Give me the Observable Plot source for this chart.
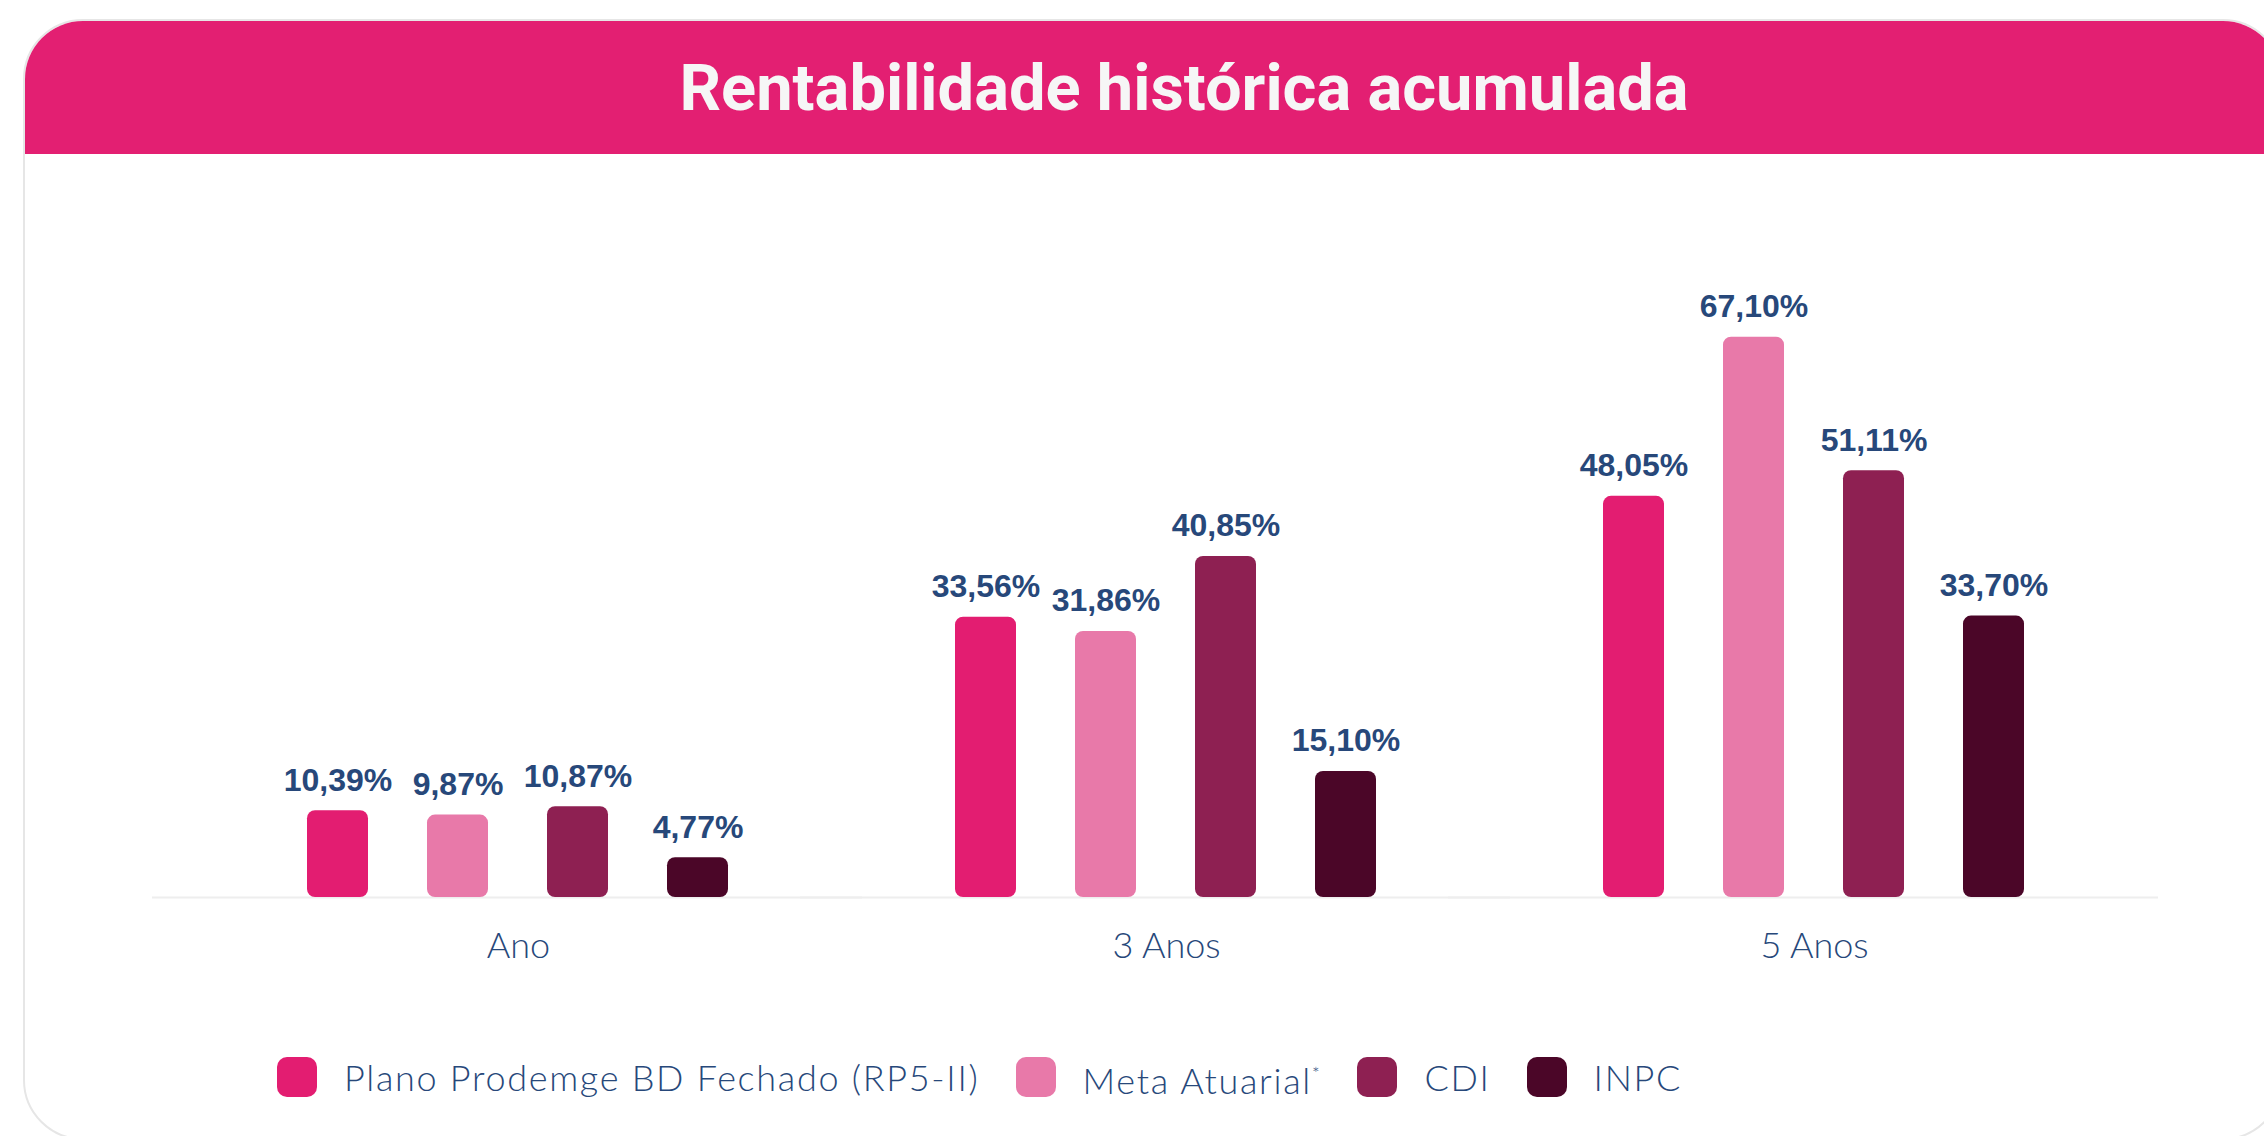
<!DOCTYPE html>
<html>
<head>
<meta charset="utf-8">
<script src="https://cdn.jsdelivr.net/npm/d3@7"></script>
<script src="https://cdn.jsdelivr.net/npm/@observablehq/plot@0.6"></script>
<style>
  html, body { margin: 0; padding: 0; background: #ffffff; }
  body { width: 2264px; height: 1136px; position: relative; overflow: hidden; }
  #card {
    position: absolute; left: 23px; top: 19px; width: 2256px; height: 1117px;
    border: 2px solid #e6e6e6; border-radius: 60px; background: #fff; overflow: hidden;
  }
  #band { position: absolute; left: -2px; top: -2px; right: -2px; height: 135px; background: #E31F72; }
  #title {
    position: absolute; left: 584px; width: 1200px; top: 56px; text-align: center;
    font-family: Roboto, "Liberation Sans", sans-serif; font-weight: 700; font-size: 65px;
    line-height: 1; color: #f6f6f6; white-space: nowrap;
  }
  #chart { position: absolute; left: 0; top: 152px; }
  #legend {
    position: absolute; left: 277px; top: 1053px; display: flex; align-items: center;
    font-family: Lato, "Open Sans", sans-serif; font-weight: 300; font-size: 36px; color: #27487A;
    letter-spacing: 1.7px;
  }
  .item { display: flex; align-items: center; margin-right: 36px; }
  .sw { width: 40px; height: 40px; border-radius: 10px; margin-right: 27px; flex: none; }
  .lab { line-height: 40px; white-space: nowrap; }
  sup { font-size: 18px; vertical-align: 14px; }
</style>
</head>
<body>
<div id="card"><div id="band"></div></div>
<div id="title">Rentabilidade histórica acumulada</div>
<div id="chart"></div>
<div id="legend"></div>
<script>
// ---- data ----
const groups = ["Ano", "3 Anos", "5 Anos"];
const series = ["Plano Prodemge BD Fechado (RP5-II)", "Meta Atuarial*", "CDI", "INPC"];
const plano = [10.39, 33.56, 48.05];
const metaAtuarial = [9.87, 31.86, 67.10];
const cdi = [10.87, 40.85, 51.11];
const inpc = [4.77, 15.10, 33.70];
const colors = ["#E31D71", "#E879A9", "#8E2052", "#4B0628"];

const valuesBySeries = [plano, metaAtuarial, cdi, inpc];
const rows = [];
groups.forEach((g, gi) => {
  series.forEach((s, si) => {
    rows.push({group: g, series: s, value: valuesBySeries[si][gi]});
  });
});

const fmt = v => v.toFixed(2).replace(".", ",") + "%";
const labelColor = "#27487A";

const chart = Plot.plot({
  width: 2264,
  height: 868,
  marginLeft: 194,
  marginRight: 126,
  marginTop: 77,
  marginBottom: 123,
  style: {background: "transparent", overflow: "visible"},
  fx: {domain: groups, padding: 0, axis: null, label: null},
  x: {domain: series, paddingInner: 0.49, paddingOuter: 0.945, axis: null, label: null},
  y: {domain: [0, 80], axis: null, label: null},
  color: {domain: series, range: colors},
  marks: [
    Plot.ruleY([0], {stroke: "#eeeeee", strokeWidth: 2, insetLeft: -42, insetRight: -20}),
    Plot.barY(rows, {fx: "group", x: "series", y: "value", fill: "series", rx: 8}),
    Plot.text(rows, {
      fx: "group", x: "series", y: "value", text: d => fmt(d.value),
      dy: -20, lineAnchor: "bottom", fontSize: 32, fontWeight: "bold",
      fontFamily: "'Liberation Sans', Arial, sans-serif", fill: labelColor
    }),
    Plot.text(groups, {
      fx: d => d, text: d => d, frameAnchor: "bottom", lineAnchor: "top", dy: 35,
      fontSize: 36, fontWeight: 300, fontFamily: "Lato, 'Open Sans', sans-serif", fill: labelColor,
      letterSpacing: "1.2px"
    })
  ]
});
document.getElementById("chart").appendChild(chart);

// ---- legend ----
const legend = document.getElementById("legend");
series.forEach((s, i) => {
  const item = document.createElement("div");
  item.className = "item";
  const sw = document.createElement("div");
  sw.className = "sw";
  sw.style.background = colors[i];
  const lab = document.createElement("div");
  lab.className = "lab";
  if (s.endsWith("*")) {
    lab.textContent = s.slice(0, -1);
    const sup = document.createElement("sup");
    sup.textContent = "*";
    lab.appendChild(sup);
  } else {
    lab.textContent = s;
  }
  item.appendChild(sw);
  item.appendChild(lab);
  legend.appendChild(item);
});
</script>
</body>
</html>
